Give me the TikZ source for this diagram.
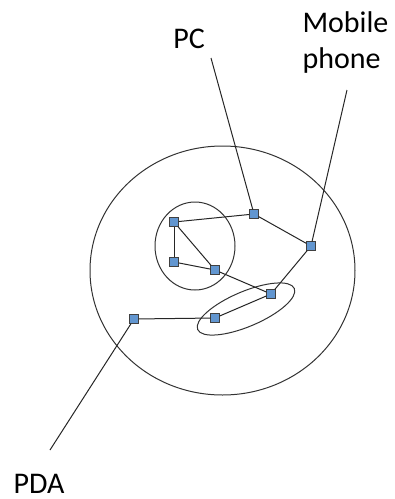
\documentclass[tikz,border=0pt]{standalone}
\usepackage{fontspec}
\setmainfont{Carlito}
\begin{document}
\begin{tikzpicture}[x=1pt,y=-1pt,line width=1pt,
  dev/.style={draw=black!75,line width=0.7pt,fill={rgb,255:red,98;green,150;blue,208},minimum size=8.5pt,inner sep=0pt},
  lbl/.style={font=\fontsize{30}{36}\selectfont,inner sep=0pt}]
\useasboundingbox (0,0) rectangle (395,499);
% areas
\draw[black!80] (222.5,270.5) circle [x radius=132.5pt, y radius=124.5pt];
\draw[black!80] (195,246) circle [x radius=40pt, y radius=44pt];
\draw[black!80, rotate around={23:(246,309)}] (246,309) circle [x radius=52.5pt, y radius=17.5pt];
% devices
\node[dev] (a) at (174,222) {};
\node[dev] (b) at (174,262) {};
\node[dev] (c) at (215,270) {};
\node[dev] (pcdev) at (254,214) {};
\node[dev] (mobdev) at (311,246) {};
\node[dev] (d) at (271,294) {};
\node[dev] (e) at (215,318) {};
\node[dev] (pdadev) at (134,319) {};
% links
\draw[black!85] (a) -- (pcdev);
\draw[black!85] (a) -- (b);
\draw[black!85] (a) -- (c);
\draw[black!85] (b) -- (c) -- (d);
\draw[black!85] (pcdev) -- (mobdev) -- (d) -- (e) -- (pdadev);
% labels
\node[lbl,anchor=base] (pc) at (189,48) {PC};
\node[lbl,align=left,anchor=north west] (mobile) at (302,11) {Mobile\\phone};
\node[lbl,anchor=base] (pda) at (39,493) {PDA};
\coordinate (pcend) at (211,58);
\coordinate (mobend) at (347,90);
\coordinate (pdaend) at (50,450);
\draw[black!85] (pcend) -- (pcdev);
\draw[black!85] (mobend) -- (mobdev);
\draw[black!85] (pdaend) -- (pdadev);
\end{tikzpicture}
\end{document}
